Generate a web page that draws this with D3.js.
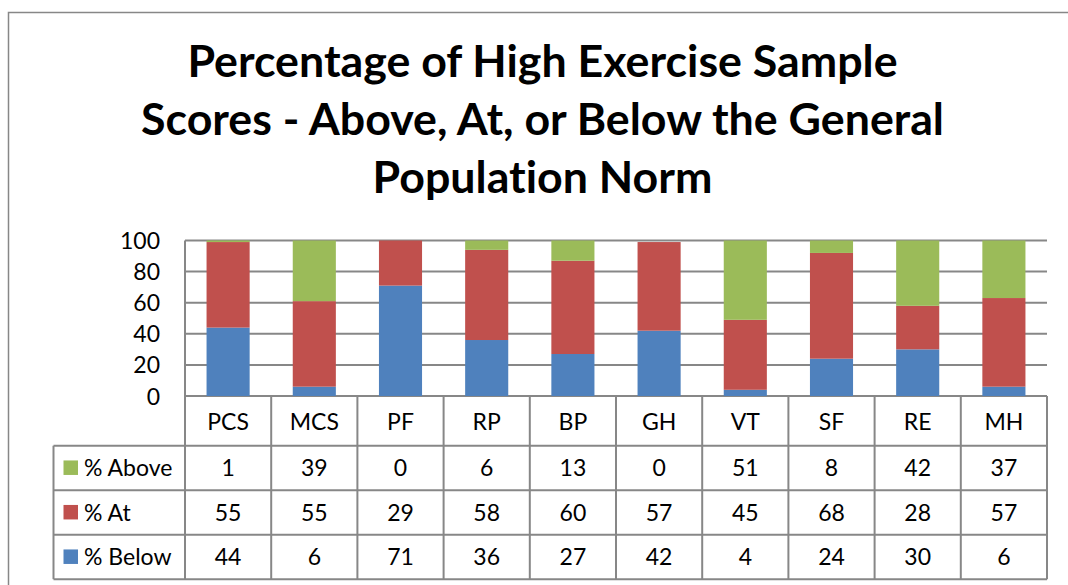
<!DOCTYPE html>
<html>
<head>
<meta charset="utf-8">
<script src="https://cdn.jsdelivr.net/npm/d3@7"></script>
<style>
  html, body { margin: 0; padding: 0; background: #fff; }
  svg { display: block; }
  text { font-family: Lato, "Open Sans", sans-serif; fill: #000; font-variant-ligatures: none; }
</style>
</head>
<body>
<svg id="chart" width="1068" height="585"></svg>
<script>
// SF-36 domains and the share of high-exercise scores relative to the norm
const categories = ["PCS", "MCS", "PF", "RP", "BP", "GH", "VT", "SF", "RE", "MH"];
const pctAbove = [1, 39, 0, 6, 13, 0, 51, 8, 42, 37];
const pctAt    = [55, 55, 29, 58, 60, 57, 45, 68, 28, 57];
const pctBelow = [44, 6, 71, 36, 27, 42, 4, 24, 30, 6];
const seriesNames = ["% Above", "% At", "% Below"];
const yTicks = [0, 20, 40, 60, 80, 100];
const titleLines = [
  "Percentage of High Exercise Sample",
  "Scores - Above, At, or Below the General",
  "Population Norm"
];

const colors = { "% Above": "#9BBB59", "% At": "#C0504D", "% Below": "#4F81BD" };
const lineColor = "#878787";

const svg = d3.select("#chart");

// chart frame
svg.append("rect")
  .attr("x", 8.5).attr("y", 12.5)
  .attr("width", 1100).attr("height", 620)
  .attr("fill", "none").attr("stroke", lineColor).attr("stroke-width", 1.5);

// plot geometry
const plotLeft = 185, plotRight = 1047, plotTop = 240.5, plotBottom = 396;
const tableLeft = 53.5;
const headerBottom = 445.7;
const rowH = 44.5;

const x = d3.scaleBand().domain(categories)
  .range([plotLeft, plotRight]).paddingInner(0.5).paddingOuter(0.25);
const step = x.step();
const y = d3.scaleLinear().domain([0, 100]).range([plotBottom, plotTop]);

// title, sized so the longest line spans its width
const title = svg.append("g");
const titleTexts = title.selectAll("text").data(titleLines).join("text")
  .attr("x", 542.5)
  .attr("y", (d, i) => 77 + i * 58)
  .attr("text-anchor", "middle")
  .attr("font-weight", "bold")
  .attr("font-size", 36)
  .text(d => d);
const w2 = titleTexts.nodes()[1].getComputedTextLength();
titleTexts.attr("font-size", 36 * 803 / w2);

// horizontal gridlines
svg.append("g").selectAll("line").data(yTicks).join("line")
  .attr("x1", plotLeft).attr("x2", plotRight)
  .attr("y1", d => y(d)).attr("y2", d => y(d))
  .attr("stroke", lineColor).attr("stroke-width", 2);

// stacked bars
const rows = categories.map((c, i) => ({
  cat: c, "% Below": pctBelow[i], "% At": pctAt[i], "% Above": pctAbove[i]
}));
const stack = d3.stack().keys(["% Below", "% At", "% Above"]);
const layers = stack(rows);
svg.append("g").selectAll("g").data(layers).join("g")
  .attr("fill", d => colors[d.key])
  .selectAll("rect").data(d => d).join("rect")
  .attr("x", d => x(d.data.cat))
  .attr("width", x.bandwidth())
  .attr("y", d => y(d[1]))
  .attr("height", d => y(d[0]) - y(d[1]));

// value axis
const bodyFont = 23;
const yAxis = d3.axisLeft(y).tickValues(yTicks).tickSize(0).tickPadding(25);
const yg = svg.append("g").attr("transform", `translate(${plotLeft},0)`).call(yAxis);
yg.select(".domain").remove();
yg.selectAll("text")
  .attr("font-size", bodyFont).attr("dy", "0.35em").attr("fill", "#000")
  .style("font-family", "Lato, 'Open Sans', sans-serif");

// data table below the plot
const table = svg.append("g");
const tableBottom = headerBottom + rowH * 3;

// vertical lines: plot-left axis and column separators
table.append("line")
  .attr("x1", plotLeft).attr("x2", plotLeft)
  .attr("y1", plotTop).attr("y2", tableBottom)
  .attr("stroke", lineColor).attr("stroke-width", 2);
table.selectAll("line.col").data(categories).join("line").attr("class", "col")
  .attr("x1", d => x(d) - x.bandwidth() / 2 + step)
  .attr("x2", d => x(d) - x.bandwidth() / 2 + step)
  .attr("y1", plotBottom).attr("y2", tableBottom)
  .attr("stroke", lineColor).attr("stroke-width", 2);
table.append("line")
  .attr("x1", tableLeft).attr("x2", tableLeft)
  .attr("y1", headerBottom).attr("y2", tableBottom)
  .attr("stroke", lineColor).attr("stroke-width", 2);
// horizontal row lines
table.selectAll("line.row").data([0, 1, 2, 3]).join("line").attr("class", "row")
  .attr("x1", tableLeft).attr("x2", plotRight)
  .attr("y1", d => headerBottom + d * rowH).attr("y2", d => headerBottom + d * rowH)
  .attr("stroke", lineColor).attr("stroke-width", 2);

// category header labels
table.selectAll("text.cat").data(categories).join("text").attr("class", "cat")
  .attr("x", d => x(d) + x.bandwidth() / 2)
  .attr("y", (plotBottom + headerBottom) / 2 + 1)
  .attr("dy", "0.35em")
  .attr("text-anchor", "middle")
  .attr("font-size", bodyFont)
  .text(d => d);

// value rows with legend keys
const rowValues = [pctAbove, pctAt, pctBelow];
seriesNames.forEach((name, r) => {
  const cy = headerBottom + rowH * (r + 0.5);
  table.append("rect")
    .attr("x", 63.5).attr("y", cy - 7.5)
    .attr("width", 14.5).attr("height", 14.5)
    .attr("fill", colors[name]);
  table.append("text")
    .attr("x", 84).attr("y", cy).attr("dy", "0.35em")
    .attr("font-size", bodyFont)
    .text(name);
  table.append("g").selectAll("text").data(rowValues[r]).join("text")
    .attr("x", (d, i) => x(categories[i]) + x.bandwidth() / 2)
    .attr("y", cy).attr("dy", "0.35em")
    .attr("text-anchor", "middle")
    .attr("font-size", bodyFont)
    .text(d => d);
});
</script>
</body>
</html>
